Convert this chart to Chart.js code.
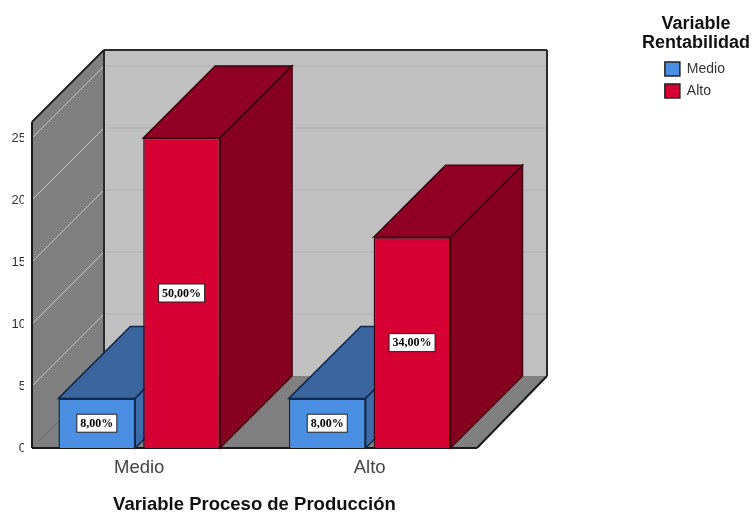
<!DOCTYPE html>
<html>
<head>
<meta charset="utf-8">
<style>html,body{margin:0;padding:0;background:#fff}canvas{display:block}</style>
<script src="https://cdn.jsdelivr.net/npm/chart.js@4"></script>
</head>
<body>
<canvas id="c" width="753" height="512"></canvas>
<script>
const categories = ['Medio', 'Alto'];
const serieMedio = [4, 4];
const serieAlto = [25, 17];
const labelsMedio = ['8,00%', '8,00%'];
const labelsAlto = ['50,00%', '34,00%'];
const yTicks = [0, 5, 10, 15, 20, 25];
const xTitle = 'Variable Proceso de Producción';
const legendTitle = ['Variable', 'Rentabilidad'];
const wallTopValue = 26.3;
const DEPTH = 72, WALL_INSET = 8, FRONT_R = 477;
const sideColors = [{side:'#3c6ba8', top:'#3a659d', line:'#0e2a50'}, {side:'#860020', top:'#8f0024', line:'#3a0010'}];
const dataLabels = [labelsMedio, labelsAlto];

function poly(ctx, pts, fill, stroke, lw) {
  ctx.beginPath();
  pts.forEach((p, i) => i ? ctx.lineTo(p[0], p[1]) : ctx.moveTo(p[0], p[1]));
  ctx.closePath();
  if (fill) { ctx.fillStyle = fill; ctx.fill(); }
  if (stroke) { ctx.strokeStyle = stroke; ctx.lineWidth = lw || 1; ctx.stroke(); }
}
function seg(ctx, a, b, c, d, color, lw) {
  ctx.beginPath(); ctx.moveTo(a, b); ctx.lineTo(c, d);
  ctx.strokeStyle = color; ctx.lineWidth = lw; ctx.stroke();
}

const box3d = {
  id: 'box3d',
  beforeDraw(chart) {
    // the legend title is wider than the legend's item column: do not clip it
    chart.legend.draw = function () { this._draw(); };
  },
  beforeDatasetsDraw(chart) {
    const ctx = chart.ctx, y = chart.scales.y, area = chart.chartArea;
    const L = area.left + WALL_INSET, R = FRONT_R, d = DEPTH;
    const y0 = y.getPixelForValue(0), yT = y.getPixelForValue(wallTopValue);
    ctx.save();
    poly(ctx, [[L + d, yT - d], [R + d - 2, yT - d], [R + d - 2, y0 - d], [L + d, y0 - d]], '#c0c0c0');
    poly(ctx, [[L, yT], [L + d, yT - d], [L + d, y0 - d], [L, y0]], '#808080');
    poly(ctx, [[L, y0], [L + d, y0 - d], [R + d - 2, y0 - d], [R, y0]], '#808080');
    yTicks.forEach(v => {
      const p = y.getPixelForValue(v);
      if (v > 0) seg(ctx, L + d, p - d, R + d - 2, p - d, '#b0b0b0', 1);
      seg(ctx, L, p, L + d, p - d, v > 0 ? '#c4c4c4' : '#6a6a6a', 1);
    });
    seg(ctx, L + d, yT - d, L + d, y0 - d, '#2a2a2a', 2);
    seg(ctx, L + d, yT - d, R + d - 2, yT - d, '#2a2a2a', 2);
    seg(ctx, R + d - 2, yT - d, R + d - 2, y0 - d, '#2a2a2a', 2);
    seg(ctx, L, yT, L + d, yT - d, '#1a1a1a', 2);
    seg(ctx, L, yT, L, y0, '#1a1a1a', 2);
    seg(ctx, R, y0, R + d - 2, y0 - d, '#1a1a1a', 2);
    seg(ctx, L, y0, R, y0, '#1a1a1a', 2);
    categories.forEach((_, i) => {
      chart.data.datasets.forEach((ds, k) => {
        const b = chart.getDatasetMeta(k).data[i];
        const l = b.x - b.width / 2, r = b.x + b.width / 2, t = b.y, base = b.base;
        const c = sideColors[k];
        poly(ctx, [[l, t], [l + d, t - d], [r + d, t - d], [r, t]], c.top, c.line, 1.5);
        poly(ctx, [[r, t], [r + d, t - d], [r + d, base - d], [r, base]], c.side, c.line, 1.5);
      });
    });
    ctx.restore();
  },
  afterDatasetsDraw(chart) {
    const ctx = chart.ctx;
    ctx.save();
    ctx.font = 'bold 12px "Liberation Serif"';
    ctx.textAlign = 'center';
    ctx.textBaseline = 'middle';
    chart.data.datasets.forEach((ds, k) => {
      chart.getDatasetMeta(k).data.forEach((b, i) => {
        const txt = dataLabels[k][i];
        const cy = (b.y + b.base) / 2;
        const w = ctx.measureText(txt).width + 7, h = 18;
        ctx.fillStyle = '#fff';
        ctx.fillRect(b.x - w / 2, cy - h / 2, w, h);
        ctx.strokeStyle = '#222'; ctx.lineWidth = 1;
        ctx.strokeRect(b.x - w / 2, cy - h / 2, w, h);
        ctx.fillStyle = '#000';
        ctx.fillText(txt, b.x, cy + 0.5);
      });
    });
    ctx.restore();
  }
};

new Chart(document.getElementById('c'), {
  type: 'bar',
  data: {
    labels: categories,
    datasets: [
      {label: 'Medio', data: serieMedio, backgroundColor: '#4b8fe2', borderColor: '#0e2a50', borderWidth: 1.5},
      {label: 'Alto', data: serieAlto, backgroundColor: '#d60032', borderColor: '#3a0010', borderWidth: 1.5}
    ]
  },
  plugins: [box3d],
  options: {
    responsive: false,
    animation: false,
    categoryPercentage: 0.736,
    barPercentage: 0.906,
    layout: {padding: {top: 15, right: 18, bottom: 0, left: 0}},
    plugins: {
      tooltip: {enabled: false},
      legend: {
        position: 'right',
        align: 'start',
        title: {
          display: true,
          text: legendTitle,
          color: '#111',
          font: {family: '"Liberation Sans"', size: 18, weight: 'bold', lineHeight: 1.05},
          padding: {top: 0, bottom: 20}
        },
        labels: {
          boxWidth: 15, boxHeight: 14, padding: 8, color: '#333',
          font: {family: '"Liberation Sans"', size: 14},
          generateLabels(chart) {
            return Chart.defaults.plugins.legend.labels.generateLabels(chart)
              .map(it => Object.assign(it, {strokeStyle: '#222', lineWidth: 1.5}));
          }
        }
      }
    },
    scales: {
      x: {
        grid: {display: false},
        border: {display: false},
        afterFit(s) { s.height = 64; },
        ticks: {padding: 1, color: '#444', font: {family: '"Liberation Sans"', size: 18.5}},
        title: {display: true, text: xTitle, color: '#111', padding: {top: 0, bottom: -4},
                font: {family: '"Liberation Sans"', size: 18.5, weight: 'bold'}}
      },
      y: {
        min: 0, max: 34.92,
        grid: {display: false},
        border: {display: false},
        afterFit(s) { s.width = 24; },
        afterBuildTicks(s) { s.ticks = yTicks.map(v => ({value: v})); },
        ticks: {padding: -10, color: '#333', font: {family: '"Liberation Sans"', size: 13}}
      },
      spacer: {
        type: 'linear', position: 'right', display: true,
        grid: {display: false}, border: {display: false}, ticks: {display: false},
        afterFit(s) { s.width = 172; }
      }
    }
  }
});
</script>
</body>
</html>
